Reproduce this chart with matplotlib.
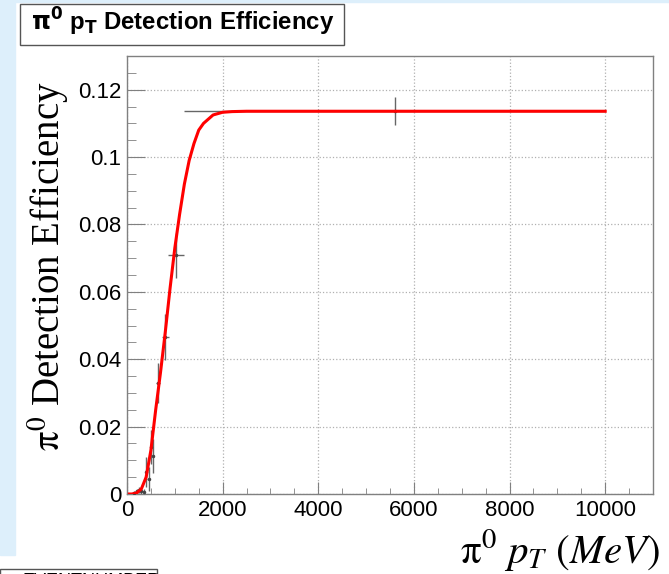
import matplotlib
matplotlib.use('Agg')
from matplotlib import pyplot as plt
from matplotlib.patches import Rectangle
from matplotlib.ticker import MultipleLocator, FuncFormatter

# measured points (bin centre, half bin width, efficiency, error)
pt_x = [150, 200, 250, 300, 350, 400, 450, 500, 550, 650, 800, 1025, 5600]
pt_xerr = [25, 25, 25, 25, 25, 25, 25, 25, 25, 50, 75, 175, 4400]
pt_y = [0.0003, 0.0008, 0.0012, 0.0010, 0.0006, 0.0066, 0.0044, 0.0140,
        0.0113, 0.0329, 0.0466, 0.0708, 0.1137]
pt_yerr = [0.0005, 0.0008, 0.0010, 0.0010, 0.0008, 0.0045, 0.0035, 0.0050,
           0.0050, 0.0060, 0.0067, 0.0067, 0.0042]

# fitted curve
fit_x = [50, 100, 200, 300, 400, 500, 600, 700, 800, 900, 1000, 1100, 1200,
         1300, 1400, 1500, 1600, 1800, 2000, 2200, 2500, 3000, 10000]
fit_y = [0.0, 0.0, 0.0003, 0.0015, 0.0050, 0.0130, 0.0250, 0.0360, 0.0480,
         0.0610, 0.0730, 0.0830, 0.0920, 0.0990, 0.1040, 0.1080, 0.1100,
         0.1125, 0.1133, 0.1135, 0.1136, 0.1136, 0.1136]

W, H = 669, 574
fig = plt.figure(figsize=(W / 100, H / 100), dpi=100)
fig.patch.set_facecolor('white')

# light blue canvas border
blue = '#ddeffb'
fig.patches.append(Rectangle((0, (H - 555) / H), 15 / W, 555 / H,
                             transform=fig.transFigure, color=blue, zorder=0))
fig.patches.append(Rectangle((0, 1 - 2 / H), 1, 2 / H,
                             transform=fig.transFigure, color=blue, zorder=0))

ax = fig.add_axes([127 / W, 80 / H, 526 / W, 438 / H])
ax.set_xlim(0, 11000)
ax.set_ylim(0, 0.13)

ax.grid(True, which='major', linestyle=':', color='#b0b0b0', linewidth=0.9)
ax.set_axisbelow(True)

ax.errorbar(pt_x, pt_y, xerr=pt_xerr, yerr=pt_yerr, fmt='.', markersize=3,
            color='#444444', ecolor='#666666', elinewidth=1, capsize=0, zorder=3)
ax.plot(fit_x, fit_y, color='red', linewidth=2.2, zorder=4)

ax.xaxis.set_major_locator(MultipleLocator(2000))
ax.xaxis.set_minor_locator(MultipleLocator(500))
ax.yaxis.set_major_locator(MultipleLocator(0.02))
ax.yaxis.set_minor_locator(MultipleLocator(0.005))
ax.xaxis.set_major_formatter(FuncFormatter(lambda v, p: '%g' % v))
ax.yaxis.set_major_formatter(FuncFormatter(lambda v, p: '%g' % round(v, 3)))

for s in ax.spines.values():
    s.set_color('#808080')
    s.set_linewidth(1.0)

ax.tick_params(axis='both', which='both', direction='in', color='#808080',
               labelsize=16, top=False, right=False)
ax.tick_params(axis='y', which='major', length=13, pad=4)
ax.tick_params(axis='y', which='minor', length=6.5)
ax.tick_params(axis='x', which='major', length=8.5, pad=4)
ax.tick_params(axis='x', which='minor', length=4.5)
for lab in ax.get_xticklabels() + ax.get_yticklabels():
    lab.set_family('Liberation Sans')

ax.set_ylabel(r'$\mathrm{\pi}^0$ Detection Efficiency', fontsize=28,
              family='Liberation Serif', math_fontfamily='stix')
ax.yaxis.set_label_coords(-0.106, 0.52)

fig.text(660 / W, (H - 550) / H, r'$\mathrm{\pi}^0\ p_T\ (MeV)$', fontsize=29.5,
         ha='right', va='center', math_fontfamily='stix')

# title box
fig.patches.append(Rectangle((20 / W, (H - 45) / H), 324 / W, 41 / H,
                             transform=fig.transFigure, facecolor='white',
                             edgecolor='#555555', linewidth=1.0, zorder=5))
fig.text(31 / W, (H - 22) / H, r'$\mathbf{\pi^0}$ p$_\mathbf{T}$ Detection Efficiency',
         fontsize=17.3, fontweight='bold', family='Liberation Sans',
         math_fontfamily='dejavusans', ha='left', va='center', zorder=6)

# partly visible stats box at the bottom
fig.patches.append(Rectangle((0, -10 / H), 157 / W, 15 / H,
                             transform=fig.transFigure, facecolor='white',
                             edgecolor='#555555', linewidth=1.0, zorder=5))
fig.text(22 / W, -8 / H, 'EVENTNUMBER', fontsize=13, family='Liberation Sans',
         ha='left', va='center', zorder=6)

fig.savefig('out.png', dpi=100)
